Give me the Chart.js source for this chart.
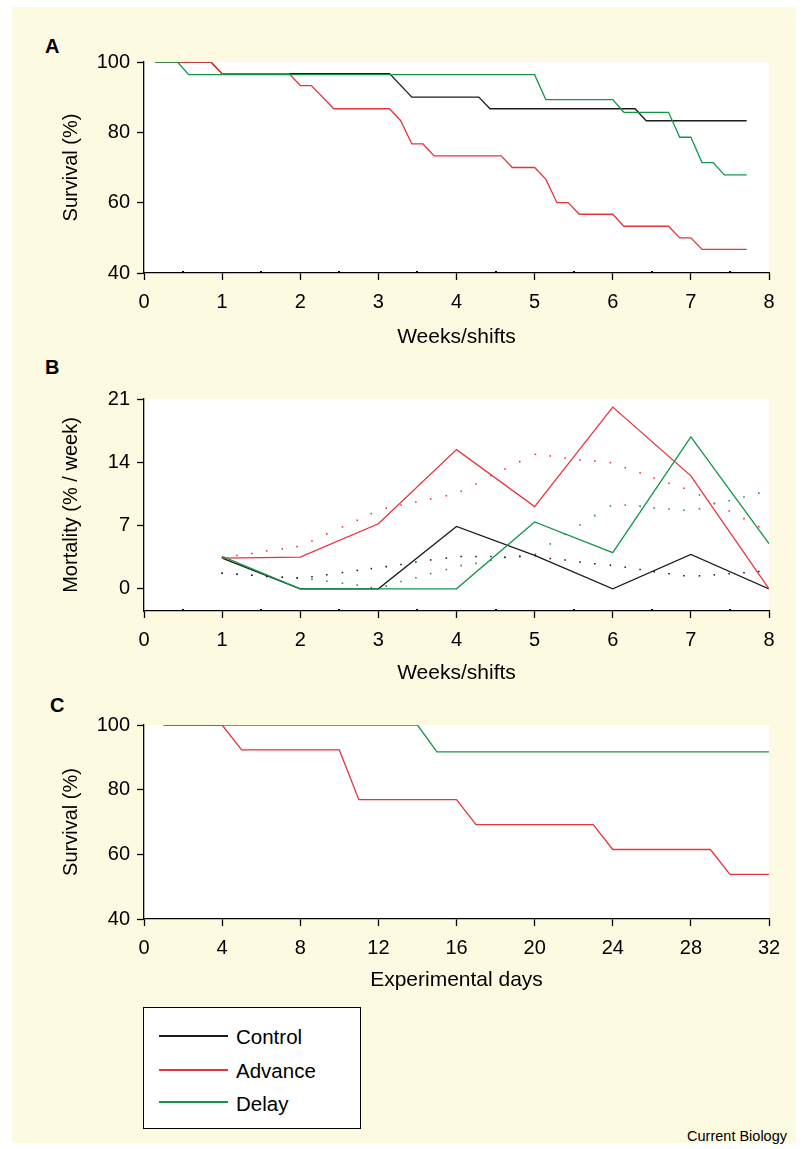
<!DOCTYPE html>
<html>
<head>
<meta charset="utf-8">
<title>Survival and mortality after light-dark shifts</title>
<script src="https://cdn.jsdelivr.net/npm/chart.js@4.4.1/dist/chart.umd.min.js"></script>
<style>
  html, body { margin: 0; padding: 0; }
  body { width: 802px; height: 1149px; background: #fff; position: relative; overflow: hidden;
         font-family: "Liberation Sans", Arial, sans-serif; color: #000; }
  #sheet { position: absolute; left: 12px; top: 7px; width: 784px; height: 1136px; background: #fdfae2; }
  .panel { position: absolute; left: 0; width: 802px; }
  .tag { position: absolute; font-weight: bold; font-size: 20px; line-height: 20px; }
  #legend { position: absolute; left: 143px; top: 1007px; width: 218px; height: 122px;
            background: #fff; border: 1px solid #000; box-sizing: border-box; }
  .key { position: absolute; left: 15px; width: 69px; height: 1.5px; }
  .lbl { position: absolute; left: 92px; font-size: 20.5px; line-height: 24px; white-space: nowrap; }
  #credit { position: absolute; right: 15px; top: 1128px; font-size: 14.5px; line-height: 16px; }
</style>
</head>
<body>
<div id="sheet"></div>

<div class="tag" style="left:45px;top:36px">A</div>
<div class="tag" style="left:45px;top:357px">B</div>
<div class="tag" style="left:50px;top:695px">C</div>

<div class="panel" style="top:40px;height:320px"><canvas id="chartA"></canvas></div>
<div class="panel" style="top:380px;height:310px"><canvas id="chartB"></canvas></div>
<div class="panel" style="top:700px;height:300px"><canvas id="chartC"></canvas></div>

<div id="legend">
  <div class="key" style="top:27px;background:#1c1c1c"></div>
  <div class="lbl" style="top:17px">Control</div>
  <div class="key" style="top:61px;background:#e8333b"></div>
  <div class="lbl" style="top:51px">Advance</div>
  <div class="key" style="top:93px;background:#13964a"></div>
  <div class="lbl" style="top:84px">Delay</div>
</div>
<div id="credit">Current Biology</div>

<script>
// ── Data: panel A, survival (%) by day of the shift schedule ──
const aCtrlDays = [1, 6, 7, 22, 24, 30, 31, 44, 45, 54];
const aCtrlSurv = [100, 100, 96.7, 96.7, 90, 90, 86.7, 86.7, 83.3, 83.3];
const aAdvDays  = [1, 6, 7, 13, 14, 15, 17, 22, 23, 24, 25, 26, 32, 33, 35, 36, 37, 38, 39, 42, 43, 47, 48, 49, 50, 54];
const aAdvSurv  = [100, 100, 96.7, 96.7, 93.3, 93.3, 86.7, 86.7, 83.3, 76.7, 76.7, 73.3, 73.3, 70, 70, 66.7, 60, 60, 56.7, 56.7, 53.3, 53.3, 50, 50, 46.7, 46.7];
const aDelDays  = [1, 3, 4, 35, 36, 42, 43, 47, 48, 49, 50, 51, 52, 54];
const aDelSurv  = [100, 100, 96.4, 96.4, 89.3, 89.3, 85.7, 85.7, 78.6, 78.6, 71.4, 71.4, 67.9, 67.9];
const aDayTicks   = [0, 7, 14, 21, 28, 35, 42, 49, 56];
const weekLabels  = ['0', '1', '2', '3', '4', '5', '6', '7', '8'];
const survTicks   = [40, 60, 80, 100];

// ── Data: panel B, mortality (% / week) ──
const bWeeks = [1, 2, 3, 4, 5, 6, 7, 8];
const bCtrl  = [3.4, 0, 0, 6.9, 3.7, 0, 3.8, 0];
const bAdv   = [3.4, 3.5, 7.2, 15.4, 9.1, 20.1, 12.5, 0];
const bDel   = [3.6, 0, 0, 0, 7.4, 4.0, 16.8, 5.0];
// dotted trend curves
const bTrendWeeks = [1.00, 1.19, 1.38, 1.57, 1.77, 1.96, 2.15, 2.34, 2.54, 2.73, 2.91, 3.10, 3.29,
                     3.48, 3.67, 3.87, 4.06, 4.25, 4.44, 4.62, 4.81, 5.01, 5.20, 5.39, 5.58, 5.77,
                     5.97, 6.16, 6.35, 6.53, 6.72, 6.91, 7.11, 7.30, 7.49, 7.68, 7.87];
const bCtrlTrend = [1.73, 1.62, 1.51, 1.36, 1.29, 1.22, 1.33, 1.55, 1.80, 2.04, 2.24, 2.46, 2.69,
                    2.98, 3.20, 3.40, 3.57, 3.57, 3.57, 3.50, 3.59, 3.67, 3.35, 3.20, 2.98, 2.78,
                    2.61, 2.40, 2.13, 1.90, 1.68, 1.44, 1.44, 1.55, 1.66, 1.79, 1.91];
const bAdvTrend  = [3.43, 3.68, 3.90, 4.20, 4.42, 4.67, 5.30, 6.08, 6.85, 7.59, 8.32, 8.92, 9.28,
                    9.61, 9.94, 10.3, 10.8, 11.6, 12.5, 13.26, 14.07, 14.88, 14.7, 14.48, 14.25, 14.14,
                    13.96, 13.4, 12.85, 12.27, 11.68, 11.13, 10.39, 9.47, 8.62, 7.77, 6.88];
const bDelTrend  = [1.73, 1.62, 1.51, 1.40, 1.29, 1.18, 1.07, 0.85, 0.63, 0.41, 0.14, 0.33, 0.81,
                    1.22, 1.69, 2.13, 2.57, 2.82, 3.18, 3.46, 3.57, 3.83, 4.97, 6.04, 7.07, 8.10,
                    9.17, 9.26, 9.15, 8.95, 8.84, 8.70, 8.86, 9.41, 9.75, 10.17, 10.59];
const bWeekTicks = [0, 1, 2, 3, 4, 5, 6, 7, 8];
const mortTicks  = [0, 7, 14, 21];

// ── Data: panel C, survival (%) by experimental day ──
const cAdvDays = [1, 4, 5, 10, 11, 16, 17, 23, 24, 29, 30, 32];
const cAdvSurv = [100, 100, 92.3, 92.3, 76.9, 76.9, 69.2, 69.2, 61.5, 61.5, 53.8, 53.8];
const cDelDays = [1, 14, 15, 32];
const cDelSurv = [100, 100, 91.7, 91.7];
const cDayTicks = [0, 4, 8, 12, 16, 20, 24, 28, 32];

// ── Style ──────────────────────────────────────────────
const BLACK = '#1c1c1c', RED = '#e8333b', GREEN = '#13964a';
Chart.defaults.font.family = '"Liberation Sans", Arial, sans-serif';
Chart.defaults.font.size = 20;
Chart.defaults.color = '#000';

const pts = (xs, ys) => xs.map((x, i) => ({ x, y: ys[i] }));

// white plot area on the cream sheet
const plotBg = {
    id: 'plotBg',
    beforeDraw(chart) {
        const { ctx, chartArea: a } = chart;
        ctx.save();
        ctx.fillStyle = '#fff';
        ctx.fillRect(a.left, a.top, a.right - a.left, a.bottom - a.top);
        ctx.restore();
    }
};

// small half-step marks on the x axis
const minorTicks = {
    id: 'minorTicks',
    afterDraw(chart, args, opts) {
        if (!opts || !opts.step) return;
        const sx = chart.scales.x, yb = chart.chartArea.bottom, ctx = chart.ctx;
        ctx.save();
        ctx.fillStyle = '#000';
        for (let v = sx.min + opts.step; v < sx.max; v += opts.step * 2) {
            const px = Math.round(sx.getPixelForValue(v));
            ctx.fillRect(px - 1, yb - 2, 2, 2);
        }
        ctx.restore();
    }
};

function line(data, color, order) {
    return { data, borderColor: color, borderWidth: 1.3, pointRadius: 0, tension: 0, fill: false, order };
}
function dots(data, color) {
    return { data, showLine: false, pointStyle: 'rect', pointRadius: 1.1, pointBorderWidth: 0,
             pointBackgroundColor: color, order: 5 };
}

function xAxis(o) {
    return {
        type: 'linear', min: o.min, max: o.max,
        afterFit: s => { s.height = o.height; },
        afterBuildTicks: s => { s.ticks = o.ticks.map(v => ({ value: v })); },
        border: { color: '#000', width: 1.3 },
        grid: { drawOnChartArea: false, tickLength: 7, tickColor: '#000', tickWidth: 1.3 },
        ticks: { padding: 10, maxRotation: 0, autoSkip: false,
                 callback: (v, i) => o.labels ? o.labels[i] : v },
        title: { display: true, text: o.title, font: { size: 21 }, padding: { top: 0, bottom: o.titlePad } }
    };
}
function yAxis(o) {
    return {
        min: o.min, max: o.max,
        afterFit: s => { s.width = 144; },
        afterBuildTicks: s => { s.ticks = o.ticks.map(v => ({ value: v })); },
        border: { color: '#000', width: 1.3 },
        grid: { drawOnChartArea: false, tickLength: 7, tickColor: '#000', tickWidth: 1.3 },
        ticks: { padding: 7 },
        title: { display: true, text: o.title, padding: { top: 59, bottom: 0 } }
    };
}

function makeChart(id, datasets, x, y, pad, minorStep) {
    return new Chart(document.getElementById(id), {
        type: 'line',
        data: { datasets },
        options: {
            responsive: true, maintainAspectRatio: false, animation: false,
            layout: { padding: { left: 0, right: 33, top: pad, bottom: 0 } },
            plugins: { legend: { display: false }, tooltip: { enabled: false },
                       minorTicks: { step: minorStep } },
            scales: { x, y }
        },
        plugins: [plotBg, minorTicks]
    });
}

// ── Panel A ────────────────────────────────────────────
makeChart('chartA', [
    line(pts(aCtrlDays, aCtrlSurv), BLACK, 3),
    line(pts(aAdvDays, aAdvSurv), RED, 2),
    line(pts(aDelDays, aDelSurv), GREEN, 1)
], xAxis({ min: 0, max: 56, ticks: aDayTicks, labels: weekLabels, height: 87, title: 'Weeks/shifts', titlePad: 10 }),
   yAxis({ min: 40, max: 100, ticks: survTicks, title: 'Survival (%)' }), 22, 3.5);

// ── Panel B ────────────────────────────────────────────
makeChart('chartB', [
    line(pts(bWeeks, bCtrl), BLACK, 3),
    line(pts(bWeeks, bAdv), RED, 2),
    line(pts(bWeeks, bDel), GREEN, 1),
    dots(pts(bTrendWeeks, bCtrlTrend), BLACK),
    dots(pts(bTrendWeeks, bAdvTrend), RED),
    dots(pts(bTrendWeeks, bDelTrend), GREEN)
], xAxis({ min: 0, max: 8, ticks: bWeekTicks, height: 79, title: 'Weeks/shifts', titlePad: 4 }),
   yAxis({ min: -2.45, max: 21, ticks: mortTicks, title: 'Mortality (% / week)' }), 19, 0.5);

// ── Panel C ────────────────────────────────────────────
makeChart('chartC', [
    line(pts(cAdvDays, cAdvSurv), RED, 2),
    line(pts(cDelDays, cDelSurv), GREEN, 1)
], xAxis({ min: 0, max: 32, ticks: cDayTicks, height: 81, title: 'Experimental days', titlePad: 7 }),
   yAxis({ min: 40, max: 100, ticks: survTicks, title: 'Survival (%)' }), 25, 0);
</script>
</body>
</html>
